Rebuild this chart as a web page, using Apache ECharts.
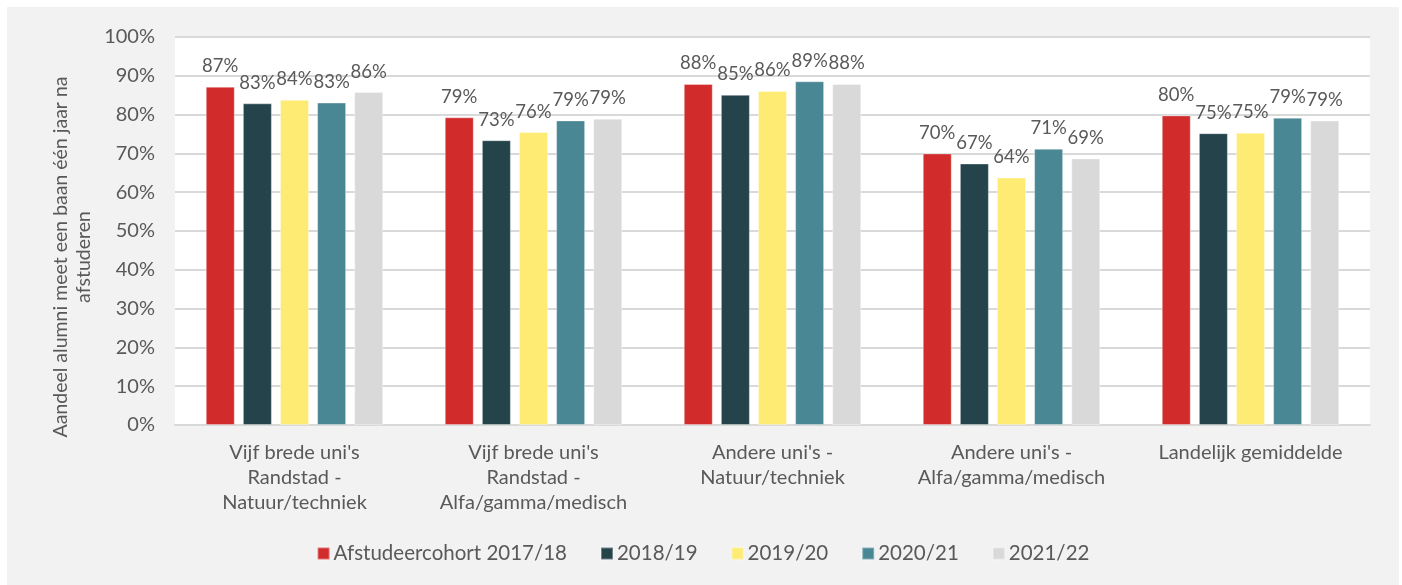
<!DOCTYPE html>
<html>
<head>
<meta charset="utf-8">
<script src="https://cdn.jsdelivr.net/npm/echarts@6/dist/echarts.min.js"></script>
<style>
  html, body { margin: 0; padding: 0; background: #fff; }
  #chart { position: absolute; left: 7px; top: 7px; width: 1392px; height: 578px; background: #f2f2f2; }
</style>
</head>
<body>
<div id="chart"></div>
<script>
const categories = [
  "Vijf brede uni's\nRandstad -\nNatuur/techniek",
  "Vijf brede uni's\nRandstad -\nAlfa/gamma/medisch",
  "Andere uni's -\nNatuur/techniek",
  "Andere uni's -\nAlfa/gamma/medisch",
  'Landelijk gemiddelde'
]
const seriesNames = ['Afstudeercohort 2017/18', '2018/19', '2019/20', '2020/21', '2021/22']
const seriesColors = ['#d22b2b', '#24434b', '#fdeb73', '#4a8794', '#d9d9d9']
const cohort1718 = [87.2, 79.3, 87.9, 70.0, 79.8]
const cohort1819 = [82.9, 73.4, 85.1, 67.4, 75.2]
const cohort1920 = [83.8, 75.5, 86.1, 63.8, 75.3]
const cohort2021 = [83.1, 78.5, 88.6, 71.2, 79.2]
const cohort2122 = [85.8, 78.9, 87.9, 68.7, 78.5]
const seriesValues = [cohort1718, cohort1819, cohort1920, cohort2021, cohort2122]
const yTicks = [0, 10, 20, 30, 40, 50, 60, 70, 80, 90, 100]

const textColor = '#595959'
const font = 'Lato'

const chart = echarts.init(document.getElementById('chart'))
chart.setOption({
  backgroundColor: '#f2f2f2',
  textStyle: { fontFamily: font, color: textColor },
  grid: {
    left: 168, right: 29, top: 30, bottom: 160,
    show: true, backgroundColor: '#fff', borderWidth: 0
  },
  legend: {
    bottom: 16,
    left: 'center',
    itemWidth: 12,
    itemHeight: 12,
    itemGap: 33,
    icon: 'rect',
    textStyle: { fontFamily: font, fontSize: 20.5, color: textColor, padding: [0, 0, 0, -1] },
    data: seriesNames
  },
  graphic: [{
    type: 'text',
    rotation: Math.PI / 2,
    x: 65,
    y: 250,
    style: {
      text: 'Aandeel alumni meet een baan één jaar na\nafstuderen',
      fontFamily: font,
      fontSize: 19.5,
      lineHeight: 23,
      fill: textColor,
      align: 'center',
      verticalAlign: 'middle'
    }
  }],
  xAxis: {
    type: 'category',
    data: categories,
    axisLine: { lineStyle: { color: '#d9d9d9', width: 2 } },
    axisTick: { show: false },
    axisLabel: {
      fontFamily: font, fontSize: 20, color: textColor,
      lineHeight: 25, margin: 15, interval: 0
    }
  },
  yAxis: {
    type: 'value',
    min: 0,
    max: 100,
    interval: 10,
    axisLine: { show: false },
    axisTick: { show: false },
    splitLine: { lineStyle: { color: '#d9d9d9', width: 2 } },
    axisLabel: {
      fontFamily: font, fontSize: 20, color: textColor, margin: 20,
      formatter: v => (yTicks.includes(v) ? v + '%' : '')
    }
  },
  series: seriesNames.map((name, i) => ({
    name: name,
    type: 'bar',
    data: seriesValues[i],
    barWidth: 29,
    barGap: '28%',
    itemStyle: { color: seriesColors[i], borderColor: 'rgba(255,255,255,0.35)', borderWidth: 1 },
    label: {
      show: true,
      position: 'top',
      distance: 11,
      fontFamily: font,
      fontSize: 18.5,
      color: textColor,
      formatter: p => Math.round(p.value) + '%'
    }
  }))
})
</script>
</body>
</html>
